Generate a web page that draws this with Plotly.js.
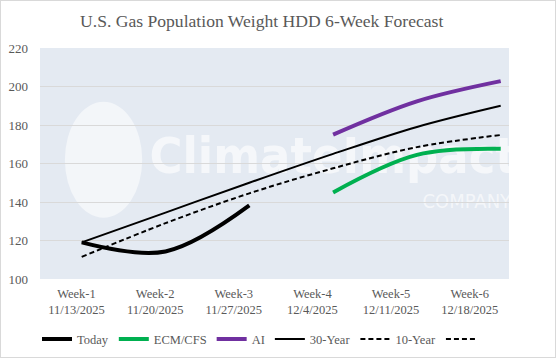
<!DOCTYPE html>
<html>
<head>
<meta charset="utf-8">
<script src="https://cdn.plot.ly/plotly-3.0.1.min.js"></script>
<style>
  html, body { margin: 0; padding: 0; background: #fff; }
  #chart { width: 556px; height: 358px; box-sizing: border-box; border: 1px solid #D9D9D9; }
</style>
</head>
<body>
<div id="chart"></div>
<script>
// ---- data ----
const weeks = ['Week-1', 'Week-2', 'Week-3', 'Week-4', 'Week-5', 'Week-6'];
const dates = ['11/13/2025', '11/20/2025', '11/27/2025', '12/4/2025', '12/11/2025', '12/18/2025'];
const today   = [119, 114.3, 138.2, null, null, null];
const ecmCfs  = [null, null, null, 145, 164.5, 167.6];
const aiFcst  = [null, null, null, 175, 192.3, 202.8];
const year30  = [119, 134.5, 150, 165, 179, 190];
const year10  = [111.5, 129, 144.5, 157.5, 168.5, 174.8];
const blank   = [null, null, null, null, null, null];

const xIdx = weeks.map((_, i) => i);
const tickText = weeks.map((w, i) => w + '<br>' + dates[i]);

const FONT = 'Liberation Serif, Times New Roman, serif';
const TXT = '#595959';
const WMFONT = 'DejaVu Sans Condensed, Roboto, sans-serif';

// x axis: data points and category labels are slightly offset in the reference
const xLo = -0.4976, xHi = 5.099;
const labelStart = -0.062, labelStep = 0.9384;
const tickVals = weeks.map((_, i) => labelStart + i * labelStep);

function tr(y, name, color, width, dash) {
  return {
    x: xIdx, y: y, name: name, type: 'scatter', mode: 'lines',
    connectgaps: false,
    line: { color: color, width: width, dash: dash || 'solid', shape: 'spline', smoothing: 1 },
    hoverinfo: 'skip'
  };
}

const data = [
  tr(today, 'Today', '#000000', 4),
  tr(ecmCfs, 'ECM/CFS', '#00B050', 4),
  tr(aiFcst, 'AI', '#7030A0', 4),
  tr(year30, '30-Year', '#000000', 2),
  tr(year10, '10-Year', '#000000', 2, '5px,3px'),
  tr(blank, ' ', '#000000', 2, '5px,3px')
];

const wm = 'rgba(255,255,255,0.62)';
const layout = {
  width: 554, height: 356,
  margin: { l: 39, r: 46, t: 47, b: 78 },
  paper_bgcolor: '#FFFFFF',
  plot_bgcolor: '#E4EAF2',
  font: { family: FONT, color: TXT, size: 13 },
  title: {
    text: 'U.S. Gas Population Weight HDD 6-Week Forecast',
    font: { family: FONT, size: 17.6, color: TXT },
    xref: 'container', x: 260.7 / 554, xanchor: 'center',
    yref: 'container', y: 1 - 20 / 356, yanchor: 'middle'
  },
  xaxis: {
    type: 'linear', range: [xLo, xHi],
    tickmode: 'array', tickvals: tickVals, ticktext: tickText,
    showgrid: false, zeroline: false, showline: false, ticks: '',
    ticklabelstandoff: 5,
    tickfont: { family: FONT, size: 12.5, color: TXT },
    fixedrange: true
  },
  yaxis: {
    range: [100, 220], dtick: 20, tick0: 100,
    showgrid: true, gridcolor: '#D9D9D9', gridwidth: 1,
    zeroline: false, showline: false, ticks: '',
    ticklabelstandoff: 11,
    tickfont: { family: FONT, size: 13, color: TXT },
    fixedrange: true
  },
  showlegend: true,
  legend: {
    orientation: 'h',
    xref: 'container', x: 262.5 / 554, xanchor: 'center',
    yref: 'container', y: 1 - 338.3 / 356, yanchor: 'middle',
    font: { family: FONT, size: 12.5, color: TXT },
    itemwidth: 30, tracegroupgap: 0,
    bgcolor: 'rgba(0,0,0,0)'
  },
  shapes: [
    { type: 'circle', layer: 'below', xref: 'paper', yref: 'paper',
      x0: 0.053, x1: 0.218, y0: 0.265, y1: 0.767,
      fillcolor: 'rgba(255,255,255,0.55)', line: { width: 0 } },
    { type: 'rect', layer: 'below', xref: 'paper', yref: 'paper',
      x0: 0.25, x1: 1.0, y0: 0.38, y1: 0.72,
      fillcolor: 'rgba(0,0,0,0)', line: { width: 0 },
      label: { text: 'ClimateImpact', textposition: 'middle center',
               font: { family: WMFONT, size: 50, weight: 'bold', color: wm } } },
    { type: 'rect', layer: 'below', xref: 'paper', yref: 'paper',
      x0: 0.82, x1: 1.0, y0: 0.29, y1: 0.39,
      fillcolor: 'rgba(0,0,0,0)', line: { width: 0 },
      label: { text: 'COMPANY', textposition: 'middle center',
               font: { family: WMFONT, size: 20, color: wm } } }
  ]
};

Plotly.newPlot('chart', data, layout, { displayModeBar: false, staticPlot: true });
</script>
</body>
</html>
